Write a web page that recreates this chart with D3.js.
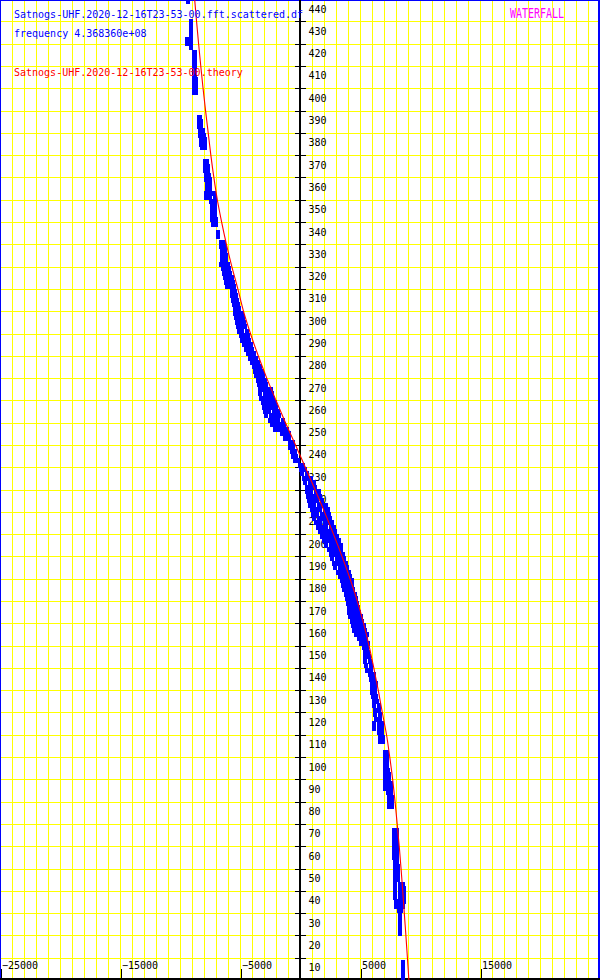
<!DOCTYPE html>
<html><head><meta charset="utf-8">
<script src="https://cdn.jsdelivr.net/npm/d3@7"></script>
<style>html,body{margin:0;padding:0;background:#fff;overflow:hidden;} svg{display:block;}</style>
</head><body>
<script>
// ---------- data ----------
const titleData = "Satnogs-UHF.2020-12-16T23-53-00.fft.scattered.df";
const titleFreq = "frequency 4.368360e+08";
const titleTheory = "Satnogs-UHF.2020-12-16T23-53-00.theory";
const titleMode = "WATERFALL";

const xTickValues = [-25000, -15000, -5000, 5000, 15000];
const yTickValues = [10,20,30,40,50,60,70,80,90,100,110,120,130,140,150,160,170,180,190,200,
  210,220,230,240,250,260,270,280,290,300,310,320,330,340,350,360,370,380,390,400,410,420,430,440];

// theory doppler curve (time s, frequency offset Hz)
const theoryTime = [0,10,20,30,40,50,60,70,80,90,100,110,120,130,140,150,160,170,180,190,200,
  210,220,230,240,250,260,270,280,290,300,310,320,330,340,350,360,370,380,390,400,410,420,430,440];
const theoryFreq = [9075,8950,8825,8690,8560,8420,8270,8100,7920,7720,7480,7210,6860,6520,6150,5750,5300,4780,4170,3500,2790,
  2040,1250,440,-375,-1210,-2000,-2770,-3480,-4130,-4710,-5180,-5680,-6130,-6530,-6890,-7180,-7430,-7650,-7870,-8080,-8270,-8450,-8620,-8780];

// observed scattered points: [time, freq offset, freq offset, ...]
const observedRows = [
[439,-9300],
[430,-9050],[428,-9050],[426,-9050],[424,-9050],
[422,-9400,-9050],[420,-9400,-9050],[418.5,-9050],
[416,-8850,-8750],[414,-8850,-8750],[412,-8850,-8750],[410,-8850,-8750],[408,-8850,-8750],[406,-8850,-8750],
[404,-8800,-8700],[402,-8800,-8700],[400,-8800,-8700],[398,-8800,-8700],
[387,-8450,-8300],[385,-8450,-8250],[383,-8400,-8250],[381,-8350,-8100],[379,-8300,-8000],[377,-8250,-7950],[375,-8250,-7950],[373.5,-8200,-7950],
[367,-7950,-7750],[365,-7950,-7700],[363,-7900,-7700],[361,-7800,-7550],[359,-7800,-7500],[357,-7750,-7500],[355,-7750,-7500],
[353,-7850,-7500,-7150],[351,-7850,-7500,-7100],
[349,-7400,-7100],[347,-7350,-7100],[345,-7350,-7050],[343,-7300,-7050],[341,-7300,-7000],[339,-7250,-7000],
[335.5,-6850],[333.5,-6850],
[331,-6550,-6300],[329,-6550,-6250],[327,-6500,-6250],[325,-6500,-6200],[323,-6500,-6200],[321,-6600,-6300,-6000],
[319,-6450,-6150,-5900],[317,-6350,-6050,-5800],[315,-6250,-5950,-5700],[313,-6150,-5850,-5600],[311,-6050,-5750,-5500],
[309,-5700,-5400],[307,-5650,-5350],[305,-5600,-5250],[303,-5500,-5150],[301,-5400,-5050],
[299,-5400,-5100,-4850],[297,-5300,-5000,-4750],[295,-5250,-4950,-4650],[293,-5200,-4900,-4550],[291,-5100,-4800,-4450],
[289,-4900,-4600,-4350],[287,-4800,-4500,-4250],[285,-4650,-4350,-4100],[283,-4500,-4250,-4000],[281,-4350,-4100,-3850],[279,-4200,-3950,-3700],[277,-4000,-3750,-3500],
[275,-3850,-3600,-3350],[273,-3750,-3450,-3200],[271,-3650,-3350,-3050],[269,-3500,-3200,-2950],[267,-3400,-3100,-2800],
[265,-3350,-3000,-2700,-2450],[263,-3300,-2950,-2600,-2300],[261,-3250,-2900,-2550,-2250],
[259,-3100,-2750,-2400,-2100],[257,-3000,-2650,-2300,-2000],[255,-2900,-2550,-2200,-1850],[253,-2800,-2450,-2100,-1750],
[251,-2500,-2150,-1800,-1450],[249,-2350,-2000,-1650,-1300],[247,-2100,-1750,-1400,-1100],
[245,-1500,-1200,-950],[243,-1250,-950],[241,-850,-600],[239,-800,-550],[237,-700,-450],[235,-600,-350],[233,-400,-150],
[231,0,250],[229,100,400],[227,200,550],[225,300,650,950],[223,450,800,1150],[221,550,900,1250],
[219,600,950,1300,1600],[217,650,1000,1350,1700],[215,750,1100,1450,1800],
[213,850,1200,1550,1900,2150],[211,1000,1350,1700,2050,2300],[209,1100,1450,1800,2150,2400],[207,1200,1550,1900,2250,2500],
[205,1350,1700,2050,2400,2650],[203,1500,1850,2200,2550,2800],[201,1650,2000,2350,2700,2950],[199,1800,2150,2500,2850,3100],
[197,2000,2350,2700,3000,3250],[195,2200,2550,2900,3200,3400],[193,2400,2750,3100,3400],[191,2550,2900,3250,3550],
[189,2700,3050,3400,3700],[187,2800,3150,3500,3850],[185,2950,3300,3650,3950],[183,3150,3500,3850,4100],
[181,3300,3650,3950,4200],[179,3500,3800,4100,4300],[177,3600,3900,4200,4350],[175,3700,4000,4300,4450],
[173,3800,4100,4400,4550],[171,3900,4200,4500,4650],[169,4000,4300,4600,4750],[167,4050,4350,4650,4850],
[165,4100,4400,4700,4950],[163,4150,4450,4750,5100],[161,4300,4600,4900,5200],[159,4400,4700,5000,5300],
[157,4500,4800,5100,5450],[155,4650,4950,5250,5550],[153,4900,5200,5500],[151,5100,5400,5650],
[149,5300,5600],[147,5400,5700],[145,5400,5750],[143,5450,5800],[141,5500,5900],[139,5600,5950],[137,5800,6150],[135,5900,6200],
[133,6000,6300],[131,6000,6250],[129,6000,6250],[127,6050,6300],
[125,6150,6450],[123,6200,6550],[121,6250,6600],[119,6250,6650],[117,6300,6650],
[115,6200,6550,6850],[113,6200,6550,6850],[111,6600,6850],[109,6650,6900],[107,6700,6950],
[102,7050,7250],[100,7050,7250],[98,7050,7250],[96,7050,7250],
[94,7050,7350],[92,7050,7400],[90,7050,7450],[88,7050,7350,7600],[86,7050,7350,7600],[84,7350,7600],[82,7400,7650],[80,7450,7700],[78,7450,7700],
[67,7850,8050],[65,7850,8050],[63,7850,8050],[61,7850,8050],[59,7850,8050],[57,7850,8050],[55,7850,8050],[53,7900,8100],
[51,7950,8200],[49,7950,8200],[47,7950,8200],[45,7950,8200],
[43,7950,8300,8600],[41,7950,8300,8650],[39,7950,8300,8650],[37,7950,8300,8650],[35,8000,8300,8650],[33,8000,8300,8600],
[31,8250,8400],[29,8330],[27,8330],[25,8330],[23,8330],[21,8330],
[8,8560],[6,8560],[4,8560],[2,8560],[0.5,8560]
];

// ---------- drawing ----------
const W = 600, H = 980;
const x = d3.scaleLinear().domain([-25000, 25000]).range([0, W]);
const y = d3.scaleLinear().domain([0, 439.6]).range([H, 0]);

const svg = d3.select("body").append("svg").attr("width", W).attr("height", H)
  .style("font-family", "'DejaVu Sans Mono', monospace").style("font-size", "10px");

svg.append("rect").attr("width", W).attr("height", H).attr("fill", "#ffffff");

// grid
const grid = svg.append("g").attr("shape-rendering", "crispEdges").attr("stroke", "#ffff00").attr("stroke-width", 1);
grid.selectAll("line.v").data(x.ticks(50)).join("line").attr("class", "v")
  .attr("x1", d => Math.round(x(d)) + 0.5).attr("x2", d => Math.round(x(d)) + 0.5)
  .attr("y1", 0).attr("y2", H);
grid.selectAll("line.h").data(yTickValues).join("line").attr("class", "h")
  .attr("x1", 0).attr("x2", W)
  .attr("y1", d => Math.round(y(d)) + 0.5).attr("y2", d => Math.round(y(d)) + 0.5);

// frame
const frame = svg.append("g").attr("shape-rendering", "crispEdges").attr("stroke", "#0000ff");
frame.append("line").attr("x1", 0).attr("x2", W).attr("y1", 0.5).attr("y2", 0.5).attr("stroke-width", 1);
frame.append("line").attr("x1", 0.5).attr("x2", 0.5).attr("y1", 0).attr("y2", H).attr("stroke-width", 1);
frame.append("line").attr("x1", W - 1).attr("x2", W - 1).attr("y1", 0).attr("y2", H).attr("stroke-width", 2);

// y axis (at frequency 0)
const yAxis = d3.axisRight(y).tickValues(yTickValues).tickSize(6).tickFormat(d3.format("d"));
const gy = svg.append("g").attr("transform", `translate(${x(0)},0)`).call(yAxis);
gy.select(".domain").remove();
gy.selectAll(".tick line").attr("x1", -5).attr("x2", 6).attr("stroke", "#000")
  .attr("shape-rendering", "crispEdges");
gy.selectAll(".tick text").attr("x", 8.5).attr("y", 13).attr("dy", null)
  .attr("fill", "#000").attr("text-anchor", "start")
  .style("font-family", "'DejaVu Sans Mono', monospace").style("font-size", "10px");
svg.append("line").attr("x1", x(0)).attr("x2", x(0)).attr("y1", 0).attr("y2", H)
  .attr("stroke", "#000").attr("stroke-width", 2).attr("shape-rendering", "crispEdges");

// x axis (bottom)
const xAxis = d3.axisTop(x).tickValues(xTickValues).tickSize(11).tickFormat(d3.format("d"));
const gx = svg.append("g").attr("transform", `translate(0,${H})`).call(xAxis);
gx.select(".domain").remove();
gx.selectAll(".tick line").attr("stroke", "#000").attr("shape-rendering", "crispEdges")
  .attr("transform", "translate(0.5,0)");
gx.selectAll(".tick text").attr("x", 1.5).attr("y", -11.5).attr("dy", null)
  .attr("fill", "#000").attr("text-anchor", "start")
  .style("font-family", "'DejaVu Sans Mono', monospace").style("font-size", "10px");
svg.append("line").attr("x1", 0).attr("x2", W).attr("y1", H - 1).attr("y2", H - 1)
  .attr("stroke", "#000").attr("stroke-width", 2).attr("shape-rendering", "crispEdges");

// observed points
const observed = observedRows.flatMap(r => r.slice(1).map(f => ({ t: r[0], f })));
svg.append("g").attr("fill", "#0000ff").attr("shape-rendering", "crispEdges")
  .selectAll("rect").data(observed).join("rect")
  .attr("x", d => x(d.f) - 2).attr("y", d => y(d.t) - 2.5)
  .attr("width", 4).attr("height", 5);

// theory curve
const theory = theoryTime.map((t, i) => ({ t, f: theoryFreq[i] }));
svg.append("path").datum(theory)
  .attr("d", d3.line().x(d => x(d.f)).y(d => y(d.t)).curve(d3.curveCatmullRom))
  .attr("fill", "none").attr("stroke", "#ff0000").attr("stroke-width", 1.1);

// titles
svg.append("text").attr("x", 14).attr("y", 17.5).attr("fill", "#0000ff").text(titleData);
svg.append("text").attr("x", 14).attr("y", 36.8).attr("fill", "#0000ff").text(titleFreq);
svg.append("text").attr("x", 14).attr("y", 76).attr("fill", "#ff0000").text(titleTheory);
svg.append("text").attr("transform", "translate(510,18.3) scale(1,1.35)")
  .attr("fill", "#ff00ff").text(titleMode);
</script>
</body></html>
